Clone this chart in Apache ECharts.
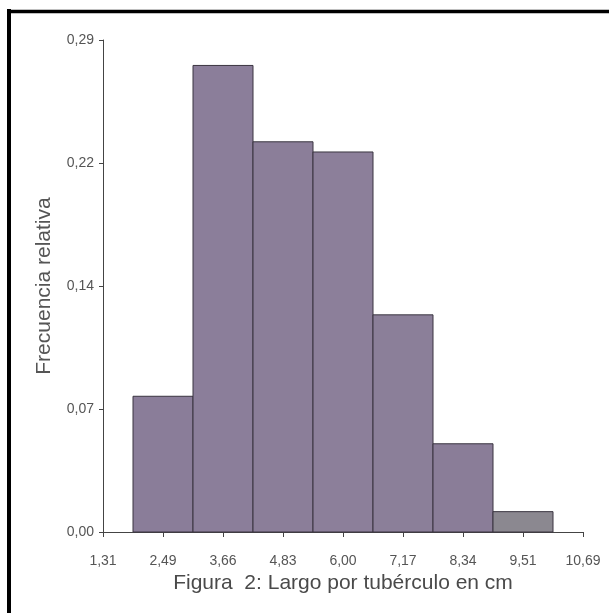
<!DOCTYPE html>
<html>
<head>
<meta charset="utf-8">
<script src="https://cdn.jsdelivr.net/npm/echarts@6/dist/echarts.min.js"></script>
<style>
  html, body { margin: 0; padding: 0; background: #fff; }
  #main { width: 609px; height: 613px; }
</style>
</head>
<body>
<div id="main"></div>
<script>
// bin edges shown as tick labels (index 0..8)
const xTickLabels = ['1,31', '2,49', '3,66', '4,83', '6,00', '7,17', '8,34', '9,51', '10,69'];
// bars sit on ticks 1..7 (centres of the bins)
const binPos = [1, 2, 3, 4, 5, 6, 7];
const relFreq = [0.080, 0.275, 0.230, 0.224, 0.128, 0.052, 0.012];
const yTickLabels = ['0,00', '0,07', '0,14', '0,22', '0,29'];
const yStep = 0.0725;

const chart = echarts.init(document.getElementById('main'));

const barColors = ['#8a7d99', '#8b7e9a', '#8b7e99', '#8c7f9a', '#8b7f99', '#8a7d98', '#8b8890'];

chart.setOption({
    animation: false,
    backgroundColor: '#ffffff',
    grid: { left: 103, right: 26, top: 40, bottom: 81 },
    xAxis: {
        type: 'value',
        min: 0,
        max: 8,
        interval: 1,
        name: 'Figura  2: Largo por tubérculo en cm',
        nameLocation: 'middle',
        nameGap: 40,
        nameTextStyle: { fontFamily: 'Liberation Sans', fontSize: 21, color: '#4a4a4a' },
        axisLine: { lineStyle: { color: '#444', width: 1 } },
        axisTick: { show: true, length: 5, lineStyle: { color: '#444' } },
        axisLabel: {
            margin: 22,
            fontFamily: 'Liberation Sans Narrow, Liberation Sans',
            fontSize: 14,
            color: '#555',
            formatter: v => xTickLabels[Math.round(v)]
        },
        splitLine: { show: false }
    },
    yAxis: {
        type: 'value',
        min: 0,
        max: 0.29,
        interval: yStep,
        name: 'Frecuencia relativa',
        nameLocation: 'middle',
        nameGap: 48,
        nameRotate: 90,
        nameTextStyle: { fontFamily: 'Liberation Sans', fontSize: 21, color: '#555' },
        axisLine: { show: true, lineStyle: { color: '#444', width: 1 } },
        axisTick: { show: true, length: 4, lineStyle: { color: '#444' } },
        axisLabel: {
            margin: 9,
            fontFamily: 'Liberation Sans Narrow, Liberation Sans',
            fontSize: 14,
            color: '#555',
            formatter: v => yTickLabels[Math.round(v / yStep)]
        },
        splitLine: { show: false }
    },
    graphic: [
        // dark frame on left and top
        { type: 'line', shape: { x1: 9, y1: 9, x2: 9, y2: 613 }, style: { stroke: '#000', lineWidth: 4 } },
        { type: 'line', shape: { x1: 7, y1: 11.5, x2: 609, y2: 11.5 }, style: { stroke: '#000', lineWidth: 3.5 } }
    ],
    series: [{
        type: 'custom',
        data: binPos.map((p, i) => [p, relFreq[i]]),
        renderItem: function (params, api) {
            const topLeft = api.coord([api.value(0) - 0.5, api.value(1)]);
            const botRight = api.coord([api.value(0) + 0.5, 0]);
            return {
                type: 'rect',
                shape: {
                    x: topLeft[0],
                    y: topLeft[1],
                    width: botRight[0] - topLeft[0],
                    height: botRight[1] - topLeft[1]
                },
                style: {
                    fill: barColors[params.dataIndex],
                    stroke: '#3a3540',
                    lineWidth: 1
                }
            };
        }
    }]
});
</script>
</body>
</html>
